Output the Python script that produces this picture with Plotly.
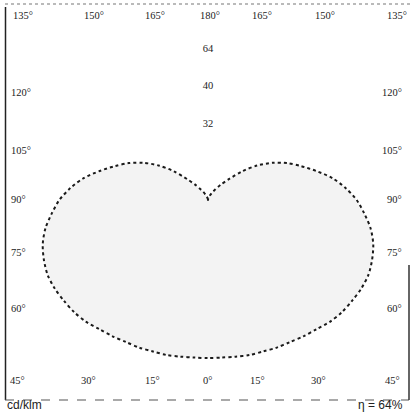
import plotly.graph_objects as go

# Luminous intensity (cd/klm) vs angle from nadir (degrees), symmetric curve
angles = [0, 5, 10, 15, 20, 25, 30, 35, 40, 45, 50, 55, 60, 65, 70, 75, 80, 85, 90,
          95, 100, 105, 110, 115, 120, 125, 130, 135, 140, 145, 150, 155, 160, 165, 170, 175, 180]
intensity = [67, 67, 67.4, 68, 68.3, 69, 69.5, 70.5, 71.5, 73, 74, 74.5, 75, 75, 74, 72.5, 70, 66.5, 63,
             58.5, 53.5, 47.5, 42, 37, 31.5, 25.5, 19, 12.5, 8.5, 5.5, 4, 2.5, 1.7, 1, 0.6, 0.2, 0]

# radial scale labels
scale_r = [64, 48, 32]
scale_text = ["64", "40", "32"]

# border angle labels
top_labels = ["135°", "150°", "165°", "180°", "165°", "150°", "135°"]
bottom_labels = ["45°", "30°", "15°", "0°", "15°", "30°", "45°"]
side_labels = ["120°", "105°", "90°", "75°", "60°"]

W, H = 411, 414
CX, CY = 208, 200
R_PX = 180
PX_PER_UNIT = 2.36


def px(x):
    return x / W


def py(y):
    return 1 - y / H


# full closed curve (mirror for the left half)
theta_full = [-a for a in reversed(angles)] + angles[1:]
r_full = list(reversed(intensity)) + intensity[1:]

fig = go.Figure()
fig.add_trace(go.Scatterpolar(
    r=r_full, theta=theta_full, mode="lines", fill="toself",
    fillcolor="#f3f3f3",
    line=dict(color="#1a1a1a", width=2, dash="dot", shape="spline", smoothing=0.8),
    hoverinfo="skip", showlegend=False,
))
fig.add_trace(go.Scatterpolar(
    r=scale_r, theta=[180] * len(scale_r), mode="text", text=scale_text,
    textfont=dict(family="Liberation Serif", size=10.5, color="#222"),
    hoverinfo="skip", showlegend=False,
))

rmax = R_PX / PX_PER_UNIT
fig.update_layout(
    width=W, height=H, margin=dict(l=0, r=0, t=0, b=0),
    paper_bgcolor="white", plot_bgcolor="white",
    polar=dict(
        domain=dict(x=[px(CX - R_PX), px(CX + R_PX)], y=[py(CY + R_PX), py(CY - R_PX)]),
        bgcolor="rgba(0,0,0,0)",
        radialaxis=dict(range=[0, rmax], visible=False),
        angularaxis=dict(rotation=-90, direction="counterclockwise", visible=False),
    ),
)

# frame
shapes = [
    dict(type="line", xref="paper", yref="paper", x0=px(5), x1=px(410), y0=py(4), y1=py(4),
         line=dict(color="#777", width=1.2, dash="dot")),
    dict(type="line", xref="paper", yref="paper", x0=px(5.5), x1=px(5.5), y0=py(7), y1=py(400),
         line=dict(color="#222", width=1.5)),
    dict(type="line", xref="paper", yref="paper", x0=px(5), x1=px(409), y0=py(400), y1=py(400),
         line=dict(color="#555", width=1.2, dash="dash")),
    dict(type="line", xref="paper", yref="paper", x0=px(409), x1=px(409), y0=py(265), y1=py(400),
         line=dict(color="#333", width=1.5)),
]
fig.update_layout(shapes=shapes)

lab_font = dict(family="Liberation Serif", size=10.5, color="#222")
ann = []
top_x = [11, 94, 155, 210, 262, 325, 409]
top_anchor = ["left", "center", "center", "center", "center", "center", "right"]
bot_x = [8, 88, 152, 207, 257, 318, 402]
bot_anchor = ["left", "center", "center", "center", "center", "center", "right"]
for t, x, a in zip(top_labels, top_x, top_anchor):
    ann.append(dict(text=t, x=px(x), y=py(16), xref="paper", yref="paper",
                    showarrow=False, font=lab_font, xanchor=a, yanchor="middle"))
for t, x, a in zip(bottom_labels, bot_x, bot_anchor):
    ann.append(dict(text=t, x=px(x), y=py(380), xref="paper", yref="paper",
                    showarrow=False, font=lab_font, xanchor=a, yanchor="middle"))
side_y = [92, 150, 200, 252, 308]
for t, y in zip(side_labels, side_y):
    ann.append(dict(text=t, x=px(9), y=py(y), xref="paper", yref="paper",
                    showarrow=False, font=lab_font, xanchor="left", yanchor="middle"))
    ann.append(dict(text=t, x=px(404), y=py(y), xref="paper", yref="paper",
                    showarrow=False, font=lab_font, xanchor="right", yanchor="middle"))

foot_font = dict(family="Liberation Sans Narrow, Liberation Sans", size=12, color="#222")
ann.append(dict(text="cd/klm", x=px(5), y=py(405), xref="paper", yref="paper",
                showarrow=False, font=foot_font, xanchor="left", yanchor="middle"))
ann.append(dict(text="η = 64%", x=px(405), y=py(405), xref="paper", yref="paper",
                showarrow=False, font=foot_font, xanchor="right", yanchor="middle"))
fig.update_layout(annotations=ann)

fig.write_html("out.html", config={"displayModeBar": False},
               post_script="document.body.style.margin='0';document.body.style.overflow='hidden';")
